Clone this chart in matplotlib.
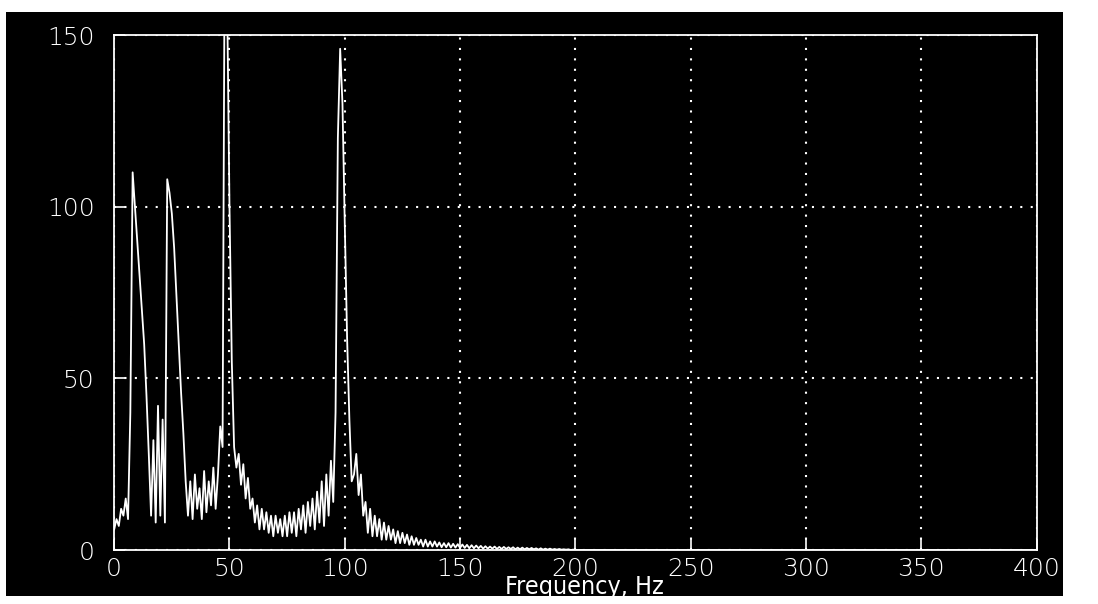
import numpy as np
import matplotlib.pyplot as plt
from matplotlib.patches import Rectangle

# spectrum, 1 Hz steps from 0 to 200 Hz, then flat to 400 Hz
freq = list(range(0, 201)) + [400]
amp = [
    6, 9, 7, 12, 10, 15, 9, 40, 110, 100,            # 0-9
    90, 80, 70, 60, 45, 28, 10, 32, 8, 42,           # 10-19
    10, 38, 8, 108, 104, 98, 88, 74, 60, 46,         # 20-29
    34, 20, 10, 20, 9, 22, 12, 18, 9, 23,            # 30-39
    11, 20, 13, 24, 12, 22, 36, 30, 190, 160,        # 40-49
    100, 55, 30, 24, 28, 19, 25, 15, 21, 12,         # 50-59
    15, 8, 13, 6, 12, 6, 11, 5, 10, 4,               # 60-69
    10, 5, 9, 4, 10, 4, 11, 5, 11, 4,                # 70-79
    12, 6, 13, 5, 14, 7, 15, 6, 17, 8,               # 80-89
    20, 7, 22, 10, 26, 14, 40, 120, 146, 130,        # 90-99
    95, 62, 38, 20, 22, 28, 16, 22, 10, 14,          # 100-109
    5, 12, 4, 10, 4, 9, 3, 8, 3, 7,                  # 110-119
    3, 6, 2, 5.5, 2, 5, 2, 4.5, 1.5, 4,              # 120-129
    1.5, 3.5, 1.5, 3, 1, 3, 1, 2.5, 1, 2.5,          # 130-139
    1, 2.2, 0.8, 2, 0.8, 2, 0.7, 1.8, 0.7, 1.7,      # 140-149
    0.6, 1.6, 0.6, 1.5, 0.5, 1.4, 0.5, 1.3, 0.5, 1.2,  # 150-159
    0.4, 1.1, 0.4, 1.0, 0.4, 1.0, 0.3, 0.9, 0.3, 0.9,  # 160-169
    0.3, 0.8, 0.3, 0.8, 0.2, 0.7, 0.2, 0.7, 0.2, 0.6,  # 170-179
    0.2, 0.6, 0.2, 0.5, 0.1, 0.5, 0.1, 0.4, 0.1, 0.4,  # 180-189
    0.1, 0.3, 0.1, 0.3, 0.1, 0.2, 0.1, 0.2, 0.0, 0.1,  # 190-199
    0.0, 0.0,                                         # 200, 400
]
xticks = [0, 50, 100, 150, 200, 250, 300, 350, 400]
yticks = [0, 50, 100, 150]

plt.rcParams['font.family'] = ['DejaVu Sans']

fig = plt.figure(figsize=(10.98, 6.04), dpi=100, facecolor='white')
# black scanned screen area, kept behind the axes
fig.patches.append(Rectangle((0.0055, 0.013), 0.9627, 0.967, transform=fig.transFigure,
                             facecolor='black', edgecolor='none', zorder=-10))

ax = fig.add_axes([0.104, 0.0894, 0.84, 0.8526])
ax.set_zorder(5)
ax.set_facecolor('black')
ax.plot(freq, amp, color='white', linewidth=1.3)

ax.set_xlim(0, 400)
ax.set_ylim(0, 150)
ax.set_xticks(xticks)
ax.set_yticks(yticks)
ax.grid(True, color='white', linestyle=(0, (1, 4)), linewidth=1.5)

for s in ax.spines.values():
    s.set_color('white')
    s.set_linewidth(1.3)

ax.tick_params(axis='both', direction='in', colors='white', labelsize=18, length=8, width=1.2)
ax.tick_params(axis='x', pad=5)
ax.tick_params(axis='y', pad=14)
for lab in ax.get_xticklabels() + ax.get_yticklabels():
    lab.set_fontweight('light')

ax.set_xlabel('Frequency, Hz', color='white', fontsize=18, fontstretch='condensed')
ax.xaxis.set_label_coords(0.51, -0.071)
ax.xaxis.label.set_va('center')

fig.savefig('out.png', dpi=100, facecolor='white')
